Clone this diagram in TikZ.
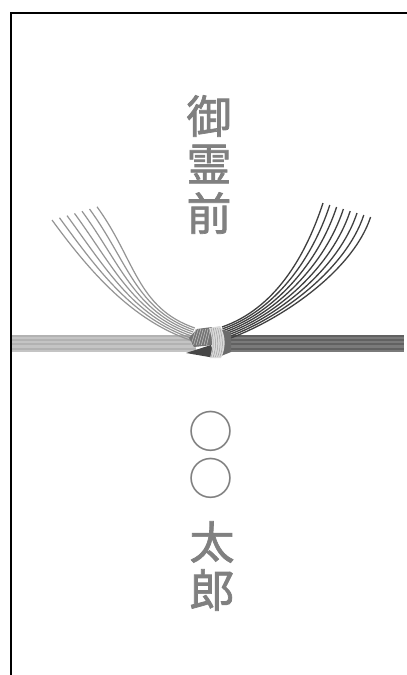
\documentclass[tikz,border=0pt]{standalone}
\usepackage{fontspec}
\newfontfamily\jp{Noto Sans CJK JP}
\newfontfamily\jpb[FakeBold=1.6]{Noto Sans CJK JP}
\definecolor{inkgray}{HTML}{808080}
\begin{document}
\begin{tikzpicture}[x=1pt,y=-1pt,
  jpchar/.style={inner sep=0pt, text=inkgray, font=\jpb\fontsize{45}{45}\selectfont},
  jpcircle/.style={inner sep=0pt, text=inkgray, font=\jp\fontsize{45}{45}\selectfont},
  lstrand/.style={draw=black!42, line width=1.2pt},
  rstrand/.style={draw=black!75, line width=1.3pt},
  frameline/.style={draw=black, line width=2pt}]
\useasboundingbox (0,0) rectangle (407,675);
\fill[white] (0,0) rectangle (407,675);
% frame
\draw[frameline] (11,675) -- (11,12.5) -- (407,12.5);
% horizontal bands
\foreach \k in {0,...,7} {
  \pgfmathsetmacro{\yy}{336+2.1*\k}
  \pgfmathsetmacro{\cl}{mod(\k,2)==0 ? 30 : 23}
  \pgfmathsetmacro{\cr}{mod(\k,2)==0 ? 62 : 52}
  \draw[draw=black!\cl, line width=2.2pt] (12,\yy) -- (196,\yy);
  \draw[draw=black!\cr, line width=2.2pt] (220,\yy) -- (404,\yy);
}
% left fan
\foreach \i in {0,...,6} {
  \pgfmathsetmacro{\sx}{52+7.5*\i}
  \pgfmathsetmacro{\sy}{220-2.2*\i}
  \pgfmathsetmacro{\ex}{190+0.8*\i}
  \pgfmathsetmacro{\ey}{340-2*\i}
  \draw[lstrand] (\sx,\sy) .. controls (\sx+38,\sy+52) and (\ex-58,\ey-20) .. (\ex,\ey);
}
% right fan
\foreach \j in {0,...,7} {
  \pgfmathsetmacro{\tx}{323+6.8*\j}
  \pgfmathsetmacro{\ty}{203+2*\j}
  \pgfmathsetmacro{\ex}{222+0.6*\j}
  \pgfmathsetmacro{\ey}{327+1.8*\j}
  \draw[rstrand] (\ex,\ey) .. controls (\ex+52,\ey-18) and (\tx-18,\ty+55) .. (\tx,\ty);
}
% knot
\fill[black!55] (189,338) -- (197,329) -- (212,327) -- (213,345) -- (194,347) -- cycle;
\foreach \s in {0,...,6} {
  \draw[black!25, line width=0.6pt] (196+2.4*\s,329) -- (191+2.6*\s,345);
}
\fill[black!72] (186,353) -- (211,345) -- (215,358) -- cycle;
\fill[black!58] (220,329) -- (231,332) -- (231,352) -- (221,356) -- cycle;
\fill[black!14] (209,328) -- (220,326) .. controls (226,336) and (226,348) .. (221,358) -- (210,358) .. controls (213,348) and (213,338) .. (209,328) -- cycle;
\foreach \s in {0,...,4} {
  \draw[black!38, line width=0.5pt] (211+2.2*\s,328) .. controls (214+2.3*\s,340) and (214+2.3*\s,348) .. (211+2.2*\s,357);
}
% upper text
\node[jpchar] (t1) at (209,116) {御};
\node[jpchar] (t2) at (209,164) {霊};
\node[jpchar] (t3) at (209,213) {前};
% lower text
\node[jpcircle] (c1) at (211,431) {○};
\node[jpcircle] (c2) at (211,478) {○};
\node[jpchar] (n1) at (212,542) {太};
\node[jpchar] (n2) at (212,590) {郎};
\end{tikzpicture}
\end{document}
